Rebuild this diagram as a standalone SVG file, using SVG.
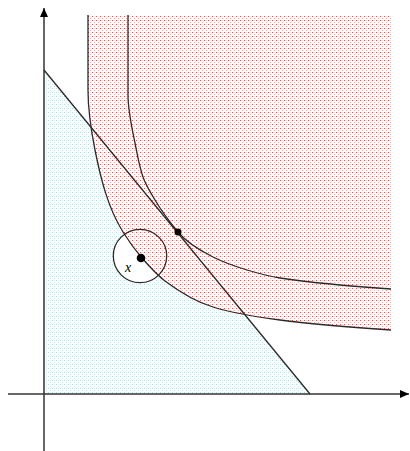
<svg xmlns="http://www.w3.org/2000/svg" width="410" height="451" viewBox="0 0 410 451">
<style>
.axis{stroke:#333;stroke-width:1.5;fill:none}
.curve{stroke:#2a2a2a;stroke-width:1.3;fill:none}
.dot{fill:#000}
.lbl{font-family:"Liberation Serif",serif;font-style:italic;font-size:14px;fill:#000}
</style>
<defs>
<pattern id="red" width="4" height="4" patternUnits="userSpaceOnUse">
<rect width="4" height="4" fill="#fff"/>
<rect x="0" y="0" width="1" height="1" fill="#ff4a4a"/>
<rect x="2" y="2" width="1" height="1" fill="#ffaaaa"/>
<rect x="2" y="0" width="1" height="1" fill="#ffe2e2"/>
</pattern>
<pattern id="blue" width="4" height="4" patternUnits="userSpaceOnUse">
<rect width="4" height="4" fill="#fafdfd"/>
<rect x="0" y="0" width="1" height="1" fill="#b4dce3"/>
<rect x="2" y="2" width="1" height="1" fill="#cde8ec"/>
<rect x="2" y="0" width="1" height="1" fill="#e6f4f6"/>
</pattern>
<marker id="arr" markerWidth="10" markerHeight="10" refX="9" refY="4" orient="auto" markerUnits="userSpaceOnUse">
<path d="M0,0 L9,4 L0,8 Z" fill="#000"/>
</marker>
</defs>
<g id="budget-set">
<polygon points="44,70 310,394 44,394" fill="url(#blue)"/>
</g>
<g id="neighbourhood">
<circle cx="140" cy="256" r="26.7" fill="#fff" stroke="none"/>
</g>
<g id="upper-set">
<path d="M88,15 L88,90 C88,110.1 91.1,130.3 95,150 C100.7,178.3 107.7,207.5 123,232 C128.7,241.1 135,249.9 142,258 C149.1,266.2 156.4,274.5 165,281 C179.6,291.9 195.6,301.8 213,307 C234.7,313.5 257.5,317.1 280,320 C316.9,324.8 353.9,327.4 391,330 L391,15 Z" fill="url(#red)"/>
</g>
<g id="connectors">
<line class="axis" x1="44" y1="451" x2="44" y2="8" marker-end="url(#arr)"/>
<line class="axis" x1="8" y1="394" x2="409" y2="394" marker-end="url(#arr)"/>
<line class="curve" x1="44" y1="70" x2="310" y2="394"/>
<path class="curve" d="M88,15 L88,90 C88,110.1 91.1,130.3 95,150 C100.7,178.3 107.7,207.5 123,232 C128.7,241.1 135,249.9 142,258 C149.1,266.2 156.4,274.5 165,281 C179.6,291.9 195.6,301.8 213,307 C234.7,313.5 257.5,317.1 280,320 C316.9,324.8 353.9,327.4 391,330"/>
<path class="curve" d="M128,15 L128,95 C128,111.2 131.8,127.1 135,143 C137.3,154.4 139.2,166 143,177 C145.8,185.1 150.6,192.6 155,200 C161.7,211.2 169.7,221.9 178,232 C187.1,243.1 200.2,250.6 213,257 C223.8,262.4 235.4,266.5 247,270 C257.8,273.2 268.8,276.3 280,278 C316.8,283.5 353.9,286.4 391,289"/>
<circle class="curve" cx="140" cy="256" r="26.7"/>
</g>
<g id="point-x">
<circle class="dot" cx="141" cy="258" r="4.3"/>
<text class="lbl" x="125" y="272">x</text>
</g>
<g id="tangent-point">
<circle class="dot" cx="178" cy="232" r="3.5"/>
</g>
</svg>
